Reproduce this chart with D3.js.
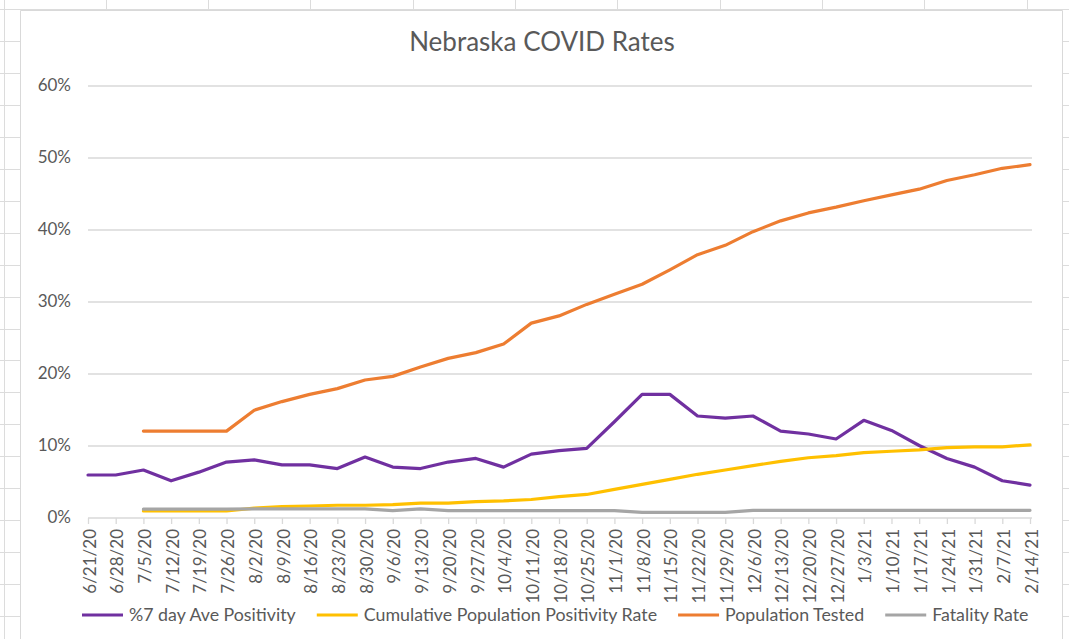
<!DOCTYPE html>
<html>
<head>
<meta charset="utf-8">
<script src="https://cdn.jsdelivr.net/npm/d3@7"></script>
<style>
  body { margin: 0; background: #fff; overflow: hidden; }
  svg { display: block; }
  svg text { font-family: Lato, "Open Sans", sans-serif; fill: #595959; }
</style>
</head>
<body>
<div id="chart"></div>
<script>
// categories (weekly dates)
const dates = ["6/21/20","6/28/20","7/5/20","7/12/20","7/19/20","7/26/20","8/2/20","8/9/20","8/16/20","8/23/20","8/30/20","9/6/20","9/13/20","9/20/20","9/27/20","10/4/20","10/11/20","10/18/20","10/25/20","11/1/20","11/8/20","11/15/20","11/22/20","11/29/20","12/6/20","12/13/20","12/20/20","12/27/20","1/3/21","1/10/21","1/17/21","1/24/21","1/31/21","2/7/21","2/14/21"];

// series values in percent
const positivity7day = [5.9,5.9,6.6,5.1,6.3,7.7,8.0,7.3,7.3,6.8,8.4,7.0,6.8,7.7,8.2,7.0,8.8,9.3,9.6,13.3,17.1,17.1,14.1,13.8,14.1,12.0,11.6,10.9,13.5,12.1,10.0,8.2,7.0,5.1,4.5];
const cumulativePositivity = [null,null,0.9,0.9,0.9,0.9,1.3,1.5,1.6,1.7,1.7,1.8,2.0,2.0,2.2,2.3,2.5,2.9,3.2,3.9,4.6,5.3,6.0,6.6,7.2,7.8,8.3,8.6,9.0,9.2,9.4,9.7,9.8,9.8,10.1];
const populationTested = [null,null,12.0,12.0,12.0,12.0,14.9,16.1,17.1,17.9,19.1,19.6,20.9,22.1,22.9,24.1,27.0,28.0,29.6,31.0,32.4,34.4,36.5,37.8,39.7,41.2,42.3,43.1,44.0,44.8,45.6,46.8,47.6,48.5,49.0];
const fatalityRate = [null,null,1.15,1.15,1.15,1.15,1.2,1.2,1.2,1.2,1.2,0.95,1.2,0.95,0.95,0.95,0.95,0.95,0.95,0.95,0.7,0.7,0.7,0.7,1.0,1.0,1.0,1.0,1.0,1.0,1.0,1.0,1.0,1.0,1.0];

const seriesNames = ["%7 day Ave Positivity","Cumulative Population Positivity Rate","Population Tested","Fatality Rate"];
const seriesColors = ["#7030A0","#FFC000","#ED7D31","#A5A5A5"];
const yTicks = [0,10,20,30,40,50,60];

const series = [positivity7day, cumulativePositivity, populationTested, fatalityRate].map((vals, i) => ({
  name: seriesNames[i],
  color: seriesColors[i],
  values: vals.map((v, j) => ({ date: dates[j], value: v }))
}));

//size
const width = 1069, height = 639;
const margin = { top: 85.5, right: 39, bottom: 121.5, left: 88 };
const innerWidth = width - margin.left - margin.right;
const innerHeight = height - margin.top - margin.bottom;
const frame = { left: 20.5, top: 10.5, right: 1062.5 };
const fontFamily = "Lato, 'Open Sans', sans-serif";

const svg = d3.select("#chart").append("svg")
  .attr("width", width)
  .attr("height", height);

//spreadsheet grid, only where it shows around the chart
const sheet = svg.append("g").attr("class", "sheet").attr("stroke", "#dcdcdc");
const colXs = d3.range(0, 11).map((k) => Math.round(3.5 + k * 102.3) + 0.5);
const rowYs = d3.range(1, 20).map((k) => Math.round(9.5 + k * 31.9) + 0.5);
sheet.selectAll("line.col").data(colXs).join("line")
  .attr("class", "col")
  .attr("x1", (d) => d).attr("x2", (d) => d)
  .attr("y1", 0).attr("y2", (d) => (d < frame.left || d > frame.right ? height : frame.top));
sheet.append("line")
  .attr("x1", 0).attr("x2", width).attr("y1", 9.5).attr("y2", 9.5);
sheet.selectAll("line.row-l").data(rowYs).join("line")
  .attr("class", "row-l")
  .attr("x1", 0).attr("x2", frame.left)
  .attr("y1", (d) => d).attr("y2", (d) => d);
sheet.selectAll("line.row-r").data(rowYs).join("line")
  .attr("class", "row-r")
  .attr("x1", frame.right).attr("x2", width)
  .attr("y1", (d) => d).attr("y2", (d) => d);

//chart area (runs past the bottom edge, so no bottom border)
svg.append("rect")
  .attr("x", frame.left).attr("y", frame.top)
  .attr("width", frame.right - frame.left).attr("height", height - frame.top)
  .attr("fill", "#fff");
svg.append("path")
  .attr("d", `M${frame.left},${height}V${frame.top}H${frame.right}V${height}`)
  .attr("fill", "none")
  .attr("stroke", "#d9d9d9");

//title
svg.append("text")
  .attr("x", 542).attr("y", 51)
  .attr("text-anchor", "middle")
  .attr("font-size", 26)
  .text("Nebraska COVID Rates");

const g = svg.append("g").attr("transform", `translate(${margin.left},${margin.top})`);

//scale
const xScale = d3.scalePoint().domain(dates).range([0, innerWidth]);
const yScale = d3.scaleLinear().domain([0, 60]).range([innerHeight, 0]);

//gridlines
g.append("g").attr("class", "grid")
  .selectAll("line").data(yTicks.filter((d) => d > 0)).join("line")
  .attr("x1", 0).attr("x2", innerWidth + 2)
  .attr("y1", (d) => Math.round(yScale(d)) + 0.5)
  .attr("y2", (d) => Math.round(yScale(d)) + 0.5)
  .attr("stroke", "#d9d9d9")
  .attr("stroke-width", 1.3);

//y-axis
const yAxis = g.append("g").attr("class", "axis y-axis")
  .call(d3.axisLeft(yScale).tickValues(yTicks).tickSize(0).tickPadding(17).tickFormat((d) => d + "%"))
  .attr("font-size", 17)
  .attr("font-family", fontFamily);
yAxis.select(".domain").remove();
yAxis.selectAll("text").attr("fill", "#595959");

//x-axis
const xAxis = g.append("g").attr("class", "axis x-axis")
  .attr("transform", `translate(0,${Math.round(innerHeight) + 0.5})`)
  .call(d3.axisBottom(xScale).tickSize(6).tickSizeOuter(0))
  .attr("font-size", 17)
  .attr("font-family", fontFamily);
xAxis.select(".domain").attr("stroke", "#d9d9d9").attr("stroke-width", 1.3)
  .attr("d", `M0,0H${innerWidth + 2}`);
xAxis.selectAll(".tick line").attr("stroke", "#d9d9d9").attr("stroke-width", 1.3);
xAxis.selectAll("text")
  .attr("fill", "#595959")
  .attr("text-anchor", "end")
  .attr("transform", "rotate(-90)")
  .attr("x", -11).attr("y", 0).attr("dy", "0.42em");

//lines
const line = d3.line()
  .defined((d) => d.value != null)
  .x((d) => xScale(d.date))
  .y((d) => yScale(d.value));

g.append("g").attr("class", "mark")
  .selectAll("path").data(series).join("path")
  .attr("fill", "none")
  .attr("stroke", (d) => d.color)
  .attr("stroke-width", 3.2)
  .attr("stroke-linejoin", "round")
  .attr("stroke-linecap", "round")
  .attr("d", (d) => line(d.values));

//legend
const legend = svg.append("g").attr("class", "legend").attr("transform", "translate(82,615)");
let lx = 0;
series.forEach((s) => {
  const item = legend.append("g").attr("transform", `translate(${lx},0)`);
  item.append("line")
    .attr("x1", 0).attr("x2", 41).attr("y1", 0).attr("y2", 0)
    .attr("stroke", s.color).attr("stroke-width", 3.2);
  const t = item.append("text")
    .attr("x", 47).attr("y", 0).attr("dy", "0.36em")
    .attr("font-size", 17.8)
    .text(s.name);
  lx += 47 + t.node().getComputedTextLength() + 21;
});
</script>
</body>
</html>
